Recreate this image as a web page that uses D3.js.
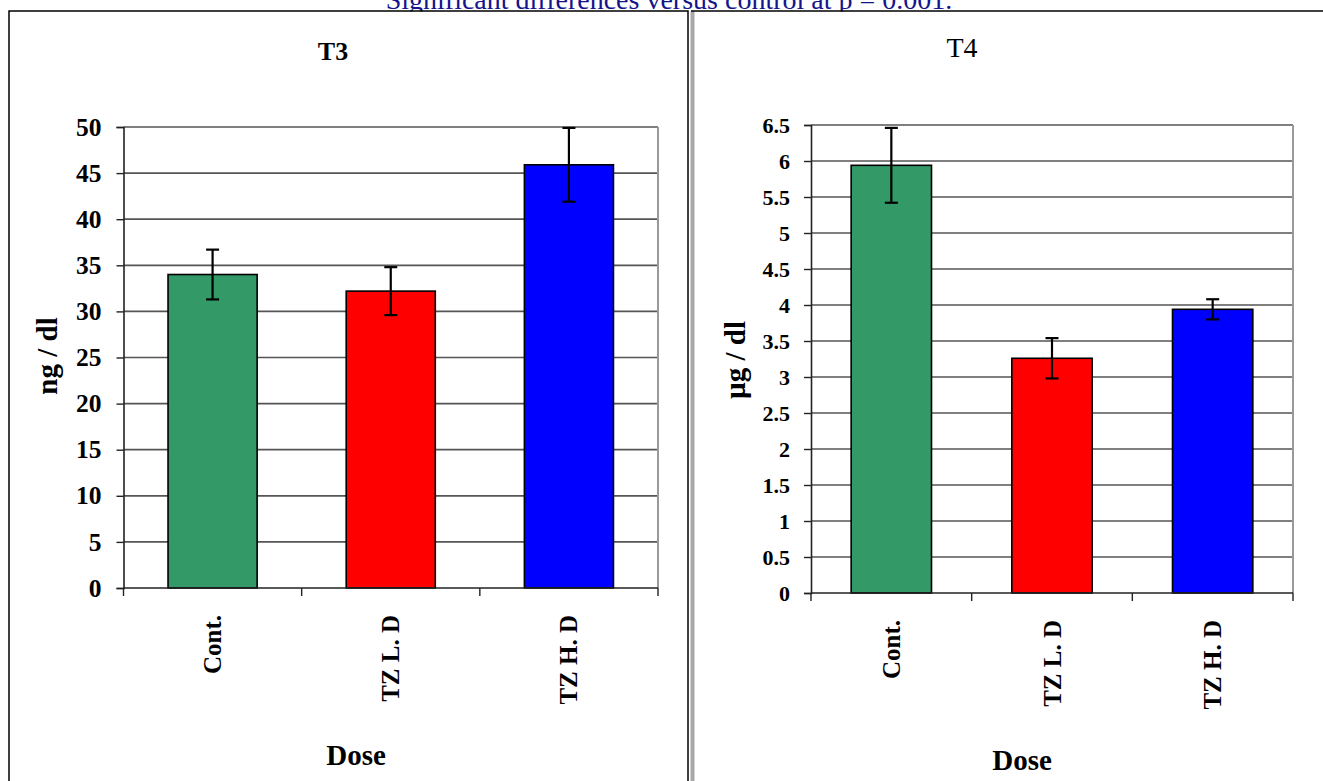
<!DOCTYPE html>
<html>
<head>
<meta charset="utf-8">
<script src="https://cdn.jsdelivr.net/npm/d3@7"></script>
<style>
  html, body { margin: 0; padding: 0; background: #fff; }
  svg { display: block; }
  text { font-family: "Liberation Serif", "Times New Roman", serif; }
</style>
</head>
<body>
<svg id="fig" width="1323" height="781"></svg>
<script>
// Dose groups shared by both panels
const categories = ["Cont.", "TZ L. D", "TZ H. D"];

// T3 (ng / dl): group means and error-bar half-widths
const t3Means = [34.0, 32.2, 45.9];
const t3Errors = [2.7, 2.6, 4.0];
const t3Ticks = [0, 5, 10, 15, 20, 25, 30, 35, 40, 45, 50];

// T4 (µg / dl): group means and error-bar half-widths
const t4Means = [5.94, 3.26, 3.94];
const t4Errors = [0.52, 0.28, 0.14];
const t4Ticks = [0, 0.5, 1, 1.5, 2, 2.5, 3, 3.5, 4, 4.5, 5, 5.5, 6, 6.5];

const barColors = ["#339966", "#ff0000", "#0000ff"];

const svg = d3.select("#fig");
svg.append("rect").attr("width", 1323).attr("height", 781).attr("fill", "#fff");

// Caption running above the panels
svg.append("text")
  .attr("x", 669).attr("y", 9)
  .attr("text-anchor", "middle")
  .attr("font-size", 28)
  .attr("fill", "#14148c")
  .text("Significant differences versus control at p = 0.001.");

// Table-cell frames around the two panels
svg.append("rect").attr("x", 9).attr("y", 11.5).attr("width", 1320).attr("height", 780).attr("fill", "#fff");
svg.append("path")
  .attr("d", "M9,790 V11 H688 V790")
  .attr("fill", "none").attr("stroke", "#000").attr("stroke-width", 1.5);
svg.append("rect")
  .attr("x", 690.5).attr("y", 11).attr("width", 4).attr("height", 780)
  .attr("fill", "#a8a8a8");
svg.append("line")
  .attr("x1", 691).attr("x2", 1330).attr("y1", 11).attr("y2", 11)
  .attr("stroke", "#000").attr("stroke-width", 1.5);

function drawPanel(cfg) {
  const g = svg.append("g");
  const x = d3.scaleBand()
    .domain(cfg.categories)
    .range([cfg.left, cfg.right])
    .paddingInner(0.5).paddingOuter(0.25);
  const y = d3.scaleLinear()
    .domain([0, cfg.max])
    .range([cfg.bottom, cfg.top]);

  // horizontal gridlines
  g.append("g").selectAll("line")
    .data(cfg.ticks.filter(t => t > 0))
    .join("line")
    .attr("x1", cfg.left).attr("x2", cfg.right)
    .attr("y1", d => y(d)).attr("y2", d => y(d))
    .attr("stroke", "#555").attr("stroke-width", 1.7);

  // right edge of the plot area
  g.append("line")
    .attr("x1", cfg.right).attr("x2", cfg.right)
    .attr("y1", cfg.top).attr("y2", cfg.bottom)
    .attr("stroke", "#9a9a9a").attr("stroke-width", 2);

  // bars
  g.append("g").selectAll("rect")
    .data(cfg.means)
    .join("rect")
    .attr("x", (d, i) => x(cfg.categories[i]))
    .attr("width", x.bandwidth())
    .attr("y", d => y(d))
    .attr("height", d => y(0) - y(d))
    .attr("fill", (d, i) => barColors[i])
    .attr("stroke", "#000").attr("stroke-width", 1.6);

  // error bars
  const eb = g.append("g").attr("stroke", "#000").attr("stroke-width", 2.2);
  cfg.means.forEach((m, i) => {
    const cx = x(cfg.categories[i]) + x.bandwidth() / 2;
    const hi = y(m + cfg.errors[i]), lo = y(m - cfg.errors[i]);
    eb.append("line").attr("x1", cx).attr("x2", cx).attr("y1", hi).attr("y2", lo);
    eb.append("line").attr("x1", cx - 6.5).attr("x2", cx + 6.5).attr("y1", hi).attr("y2", hi);
    eb.append("line").attr("x1", cx - 6.5).attr("x2", cx + 6.5).attr("y1", lo).attr("y2", lo);
  });

  // y axis
  const yAxis = d3.axisLeft(y)
    .tickValues(cfg.ticks)
    .tickSize(7).tickPadding(cfg.tickPad)
    .tickFormat(d3.format("~g"));
  const ya = g.append("g").attr("transform", `translate(${cfg.left},0)`).call(yAxis);
  ya.select(".domain").attr("stroke", "#222").attr("stroke-width", 1.6);
  ya.selectAll(".tick line").attr("stroke", "#222").attr("stroke-width", 1.4);
  ya.selectAll(".tick text")
    .attr("font-family", "Liberation Serif, serif")
    .attr("font-weight", "bold")
    .attr("font-size", cfg.tickFont)
    .attr("fill", "#000");

  // x axis with ticks at group boundaries
  g.append("line")
    .attr("x1", cfg.left).attr("x2", cfg.right)
    .attr("y1", cfg.bottom).attr("y2", cfg.bottom)
    .attr("stroke", "#222").attr("stroke-width", 1.6);
  const bounds = cfg.categories.map(c => x(c) - x.step() * x.paddingInner() / 2)
    .concat([cfg.right]);
  g.append("g").selectAll("line")
    .data(bounds)
    .join("line")
    .attr("x1", d => d).attr("x2", d => d)
    .attr("y1", cfg.bottom).attr("y2", cfg.bottom + 8)
    .attr("stroke", "#222").attr("stroke-width", 1.4);

  // rotated category labels
  g.append("g").selectAll("text")
    .data(cfg.categories)
    .join("text")
    .attr("transform", d => `translate(${x(d) + x.bandwidth() / 2},${cfg.labelTop}) rotate(-90)`)
    .attr("text-anchor", "end")
    .attr("dy", "0.34em")
    .attr("font-weight", "bold")
    .attr("font-size", 25)
    .text(d => d);

  // panel title
  g.append("text")
    .attr("x", cfg.titleX).attr("y", cfg.titleY)
    .attr("text-anchor", "middle")
    .attr("font-size", cfg.titleFont)
    .attr("font-weight", cfg.titleWeight)
    .text(cfg.title);

  // axis titles
  g.append("text")
    .attr("transform", `translate(${cfg.yLabelX},${cfg.yLabelY}) rotate(-90)`)
    .attr("text-anchor", "middle")
    .attr("font-weight", "bold")
    .attr("font-size", 29)
    .text(cfg.yLabel);
  g.append("text")
    .attr("x", cfg.xLabelX).attr("y", cfg.xLabelY)
    .attr("text-anchor", "middle")
    .attr("font-weight", "bold")
    .attr("font-size", 29)
    .text("Dose");
}

drawPanel({
  categories, means: t3Means, errors: t3Errors, ticks: t3Ticks, max: 50,
  left: 123.5, right: 658, top: 127, bottom: 588,
  tickFont: 25.5, tickPad: 15, labelTop: 615,
  title: "T3", titleX: 333, titleY: 60, titleFont: 26, titleWeight: "bold",
  yLabel: "ng / dl", yLabelX: 57, yLabelY: 356,
  xLabelX: 356, xLabelY: 765
});

drawPanel({
  categories, means: t4Means, errors: t4Errors, ticks: t4Ticks, max: 6.5,
  left: 811, right: 1293, top: 125, bottom: 593,
  tickFont: 22, tickPad: 14, labelTop: 620,
  title: "T4", titleX: 962, titleY: 57, titleFont: 28, titleWeight: "normal",
  yLabel: "µg / dl", yLabelX: 745, yLabelY: 360,
  xLabelX: 1022, xLabelY: 770
});
</script>
</body>
</html>
